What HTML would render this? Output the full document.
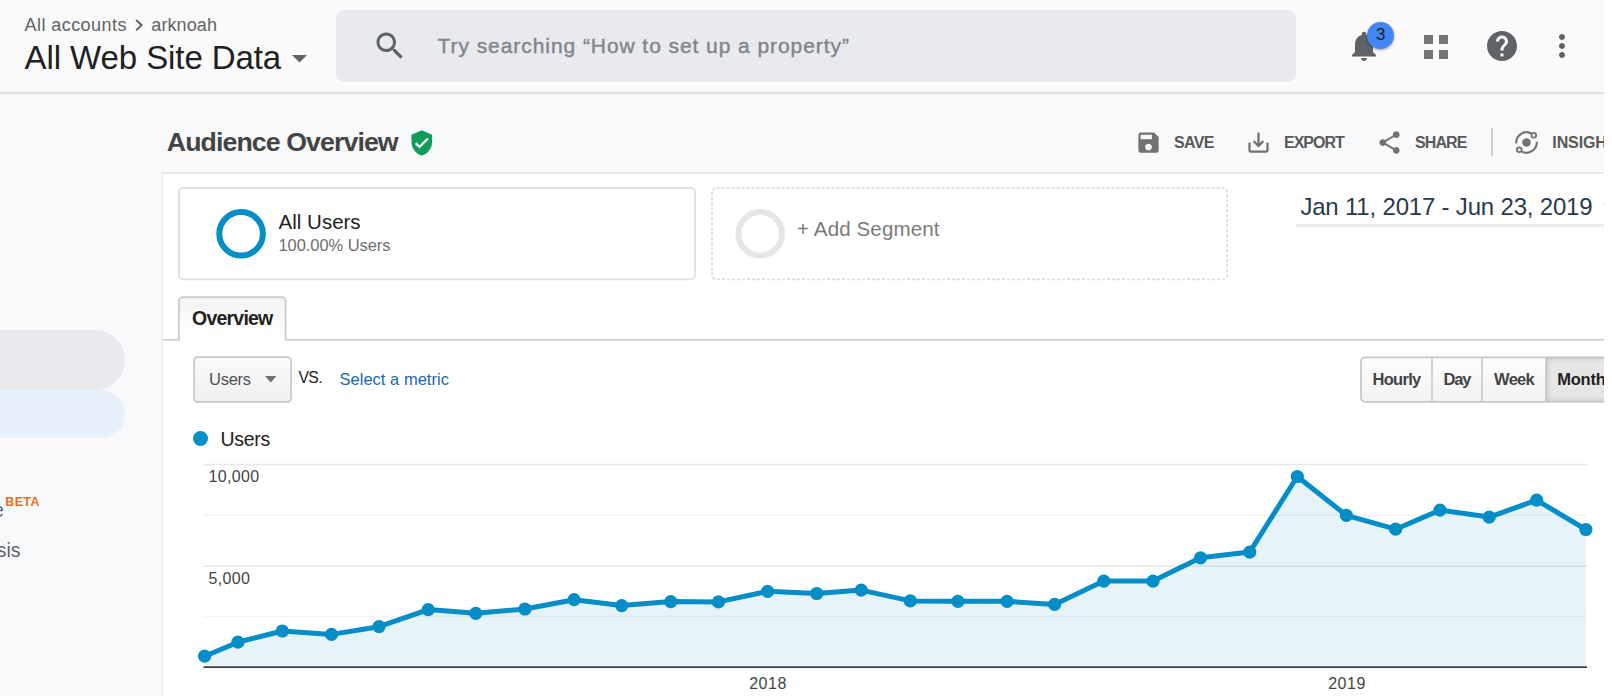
<!DOCTYPE html>
<html><head><meta charset="utf-8"><title>Analytics</title>
<style>
html,body{margin:0;padding:0;background:#fff;}
body{width:1612px;height:696px;overflow:hidden;position:relative;font-family:"Liberation Sans", sans-serif;}
#w{position:absolute;left:0;top:0;width:1604px;height:696px;overflow:hidden;}
.t{position:absolute;white-space:nowrap;font-family:"Liberation Sans", sans-serif;}
.b{position:absolute;}
.i{position:absolute;overflow:visible;}
</style></head><body><div id="w">
<div class="b" style="left:0;top:0;width:1604px;height:696px;background:#f8f9fa"></div>
<div class="b" style="left:0;top:0;width:1604px;height:92px;background:#fafafa"></div>
<div class="b" style="left:0;top:92px;width:1604px;height:2px;background:linear-gradient(#d9dbe1,#e4e6ea)"></div>
<div class="b" style="left:162px;top:172px;width:1442px;height:524px;background:#fff;border-left:1px solid #e9e9e9;border-top:2px solid #e8e8e8;box-sizing:border-box"></div>
<div class="t" style="left:24.50px;top:15.76px;font-size:18px;line-height:18px;color:#5f6368;font-weight:400;letter-spacing:0.44px;">All accounts</div>
<svg class="i" style="left:0;top:0" width="300" height="60" viewBox="0 0 300 60"><polyline points="136.2,20 141.5,25.1 136.2,30.2" fill="none" stroke="#5f6368" stroke-width="2"/></svg>
<div class="t" style="left:151.30px;top:15.76px;font-size:18px;line-height:18px;color:#5f6368;font-weight:400;letter-spacing:0.1px;">arknoah</div>
<div class="t" style="left:24.50px;top:41.07px;font-size:33px;line-height:33px;color:#202124;font-weight:400;letter-spacing:-0.08px;">All Web Site Data</div>
<svg class="i" style="left:292px;top:55px" width="15" height="8" viewBox="0 0 15 8"><path fill="#5f6368" d="M0 0h15L7.5 7.5z"/></svg>
<div class="b" style="left:336px;top:10px;width:960px;height:72px;background:#e8eaed;border-radius:8px"></div>
<svg class="i" style="left:371.5px;top:28px" width="36" height="36" viewBox="0 0 24 24"><path fill="#5f6368" d="M15.5 14h-.79l-.28-.27C15.41 12.59 16 11.11 16 9.5 16 5.91 13.09 3 9.5 3S3 5.91 3 9.5 5.91 16 9.5 16c1.61 0 3.09-.59 4.23-1.57l.27.28v.79l5 4.99L20.49 19l-4.99-5zm-6 0C7.01 14 5 11.99 5 9.5S7.01 5 9.5 5 14 7.01 14 9.5 11.99 14 9.5 14z"/></svg>
<div class="t" style="left:437.60px;top:35.02px;font-size:21px;line-height:21px;color:#80868b;font-weight:400;letter-spacing:0.93px;-webkit-text-stroke:0.4px #80868b">Try searching “How to set up a property”</div>
<svg class="i" style="left:1346px;top:28px" width="36" height="36" viewBox="0 0 24 24"><path fill="#5f6368" d="M12 22c1.1 0 2-.9 2-2h-4c0 1.1.89 2 2 2zm6-6v-5c0-3.07-1.64-5.64-4.5-6.32V4c0-.83-.67-1.5-1.5-1.5s-1.5.67-1.5 1.5v.68C7.63 5.36 6 7.92 6 11v5l-2 2v1h16v-1l-2-2z"/></svg>
<div class="b" style="left:1367px;top:22px;width:27px;height:27px;border-radius:50%;background:#4285f4;box-shadow:0 1px 3px rgba(0,0,0,.35)"></div>
<div class="t" style="left:1376.00px;top:26.21px;font-size:17px;line-height:17px;color:#202124;font-weight:400;letter-spacing:0px;">3</div>
<div class="b" style="left:1424px;top:35px;width:9px;height:9px;background:#757575"></div>
<div class="b" style="left:1424px;top:50px;width:9px;height:9px;background:#757575"></div>
<div class="b" style="left:1439px;top:35px;width:9px;height:9px;background:#757575"></div>
<div class="b" style="left:1439px;top:50px;width:9px;height:9px;background:#757575"></div>
<svg class="i" style="left:1484px;top:28px" width="36" height="36" viewBox="0 0 24 24"><path fill="#5f6368" d="M12 2C6.48 2 2 6.48 2 12s4.48 10 10 10 10-4.48 10-10S17.52 2 12 2zm1 17h-2v-2h2v2zm2.07-7.75l-.9.92C13.45 12.9 13 13.5 13 15h-2v-.5c0-1.1.45-2.1 1.17-2.83l1.24-1.26c.37-.36.59-.86.59-1.41 0-1.1-.9-2-2-2s-2 .9-2 2H8c0-2.21 1.79-4 4-4s4 1.79 4 4c0 .88-.36 1.68-.93 2.25z"/></svg>
<svg class="i" style="left:1544px;top:28px" width="36" height="36" viewBox="0 0 24 24"><path fill="#5f6368" d="M12 8c1.1 0 2-.9 2-2s-.9-2-2-2-2 .9-2 2 .9 2 2 2zm0 2c-1.1 0-2 .9-2 2s.9 2 2 2 2-.9 2-2-.9-2-2-2zm0 6c-1.1 0-2 .9-2 2s.9 2 2 2 2-.9 2-2-.9-2-2-2z"/></svg>
<div class="b" style="left:-40px;top:330px;width:165px;height:59.7px;background:#e8eaed;border-radius:30px"></div>
<div class="b" style="left:-40px;top:389.7px;width:165px;height:48.4px;background:#e8f0fe;border-radius:25px"></div>
<div class="t" style="left:-96.20px;top:500.99px;font-size:19.5px;line-height:19.5px;color:#5f6368;font-weight:400;letter-spacing:0px;width:100px;text-align:right">Value</div>
<div class="t" style="left:5.30px;top:496.02px;font-size:12.5px;line-height:12.5px;color:#e37222;font-weight:700;letter-spacing:0.35px;">BETA</div>
<div class="t" style="left:-79.40px;top:540.89px;font-size:19.5px;line-height:19.5px;color:#5f6368;font-weight:400;letter-spacing:0px;width:100px;text-align:right">Analysis</div>
<div class="t" style="left:166.80px;top:129.10px;font-size:26.7px;line-height:26.7px;color:#444;font-weight:700;letter-spacing:-0.9px;">Audience Overview</div>
<svg class="i" style="left:407.7px;top:128.7px" width="27.6" height="27.6" viewBox="0 0 24 24"><path fill="#0f9d58" d="M12 1L3 5v6c0 5.55 3.84 10.74 9 12 5.16-1.26 9-6.45 9-12V5l-9-4zm-2 16l-4-4 1.41-1.41L10 14.17l6.59-6.59L18 9l-8 8z"/></svg>
<svg class="i" style="left:1135px;top:128.8px" width="27" height="27" viewBox="0 0 24 24"><path fill="#727272" d="M17 3H5c-1.11 0-2 .9-2 2v14c0 1.1.89 2 2 2h14c1.1 0 2-.9 2-2V7l-4-4zm-5 16c-1.66 0-3-1.34-3-3s1.34-3 3-3 3 1.34 3 3-1.34 3-3 3zm3-10H5V5h10v4z"/></svg>
<div class="t" style="left:1174.00px;top:135.46px;font-size:16px;line-height:16px;color:#595959;font-weight:700;letter-spacing:-0.63px;">SAVE</div>
<svg class="i" style="left:1245px;top:128.8px" width="27" height="27" viewBox="0 0 24 24"><path fill="#727272" d="M19 12v7H5v-7H3v7c0 1.1.9 2 2 2h14c1.1 0 2-.9 2-2v-7h-2zm-6 .67l2.59-2.58L17 11.5l-5 5-5-5 1.41-1.41L11 12.67V3h2z"/></svg>
<div class="t" style="left:1284.00px;top:135.46px;font-size:16px;line-height:16px;color:#595959;font-weight:700;letter-spacing:-1.02px;">EXPORT</div>
<svg class="i" style="left:1376px;top:128.8px" width="27" height="27" viewBox="0 0 24 24"><path fill="#727272" d="M18 16.08c-.76 0-1.44.3-1.96.77L8.91 12.7c.05-.23.09-.46.09-.7s-.04-.47-.09-.7l7.05-4.11c.54.5 1.25.81 2.04.81 1.66 0 3-1.34 3-3s-1.34-3-3-3-3 1.34-3 3c0 .24.04.47.09.7L8.04 9.81C7.5 9.31 6.79 9 6 9c-1.66 0-3 1.34-3 3s1.34 3 3 3c.79 0 1.5-.31 2.04-.81l7.12 4.16c-.05.21-.08.43-.08.65 0 1.61 1.31 2.92 2.92 2.92 1.61 0 2.92-1.31 2.92-2.92s-1.31-2.92-2.92-2.92z"/></svg>
<div class="t" style="left:1415.00px;top:135.46px;font-size:16px;line-height:16px;color:#595959;font-weight:700;letter-spacing:-0.9px;">SHARE</div>
<div class="b" style="left:1491.2px;top:128px;width:1.8px;height:27.5px;background:#cdcdcd"></div>
<svg class="i" style="left:0;top:0" width="1604" height="300" viewBox="0 0 1604 300"><g fill="none" stroke="#727272" stroke-width="2.1"><path d="M1516.29 143.39A10.25 10.25 0 0 1 1531.15 133.37"/><path d="M1536.71 141.61A10.25 10.25 0 0 1 1521.85 151.63"/><circle cx="1533.75" cy="135.25" r="2.4" stroke-width="1.8"/><circle cx="1519.25" cy="149.75" r="2.4" stroke-width="1.8"/></g><circle cx="1526.5" cy="142.5" r="4.3" fill="#727272"/></svg>
<div class="t" style="left:1552.30px;top:135.46px;font-size:16px;line-height:16px;color:#595959;font-weight:700;letter-spacing:-0.1px;">INSIGHTS</div>
<svg class="i" style="left:0;top:0" width="1604" height="300" viewBox="0 0 1604 300"><rect x="178.9" y="187.9" width="516.2" height="91.4" rx="4.5" fill="#fff" stroke="#dedede" stroke-width="1.8"/><circle cx="241.1" cy="233.7" r="21.8" fill="none" stroke="#058dc7" stroke-width="6"/><rect x="712" y="187.9" width="515.2" height="91.4" rx="4.5" fill="#fff" stroke="#dcdcdc" stroke-width="1.8" stroke-dasharray="3 2"/><circle cx="760.2" cy="233.7" r="21.8" fill="none" stroke="#e6e6e6" stroke-width="6"/></svg>
<div class="t" style="left:278.60px;top:211.85px;font-size:20.5px;line-height:20.5px;color:#222;font-weight:400;letter-spacing:0.0px;">All Users</div>
<div class="t" style="left:278.50px;top:237.23px;font-size:16.5px;line-height:16.5px;color:#6e6e6e;font-weight:400;letter-spacing:-0.07px;">100.00% Users</div>
<div class="t" style="left:797.00px;top:219.25px;font-size:20.5px;line-height:20.5px;color:#7a7a7a;font-weight:400;letter-spacing:0.14px;">+ Add Segment</div>
<div class="t" style="left:1300.40px;top:194.68px;font-size:24px;line-height:24px;color:#2b3a4a;font-weight:400;letter-spacing:-0.19px;">Jan 11, 2017 - Jun 23, 2019</div>
<div class="b" style="left:1296px;top:224px;width:308px;height:2.5px;background:#ececec"></div>
<svg class="i" style="left:1602.5px;top:202.5px" width="10" height="6" viewBox="0 0 10 6"><path fill="#777" d="M0 0h10L5 5.5z"/></svg>
<svg class="i" style="left:0;top:0" width="1604" height="420" viewBox="0 0 1604 420"><defs><linearGradient id="gt" x1="0" y1="0" x2="0" y2="1"><stop offset="0" stop-color="#f3f3f3"/><stop offset="0.75" stop-color="#fdfdfd"/><stop offset="1" stop-color="#fff"/></linearGradient><linearGradient id="gb" x1="0" y1="0" x2="0" y2="1"><stop offset="0" stop-color="#fafafa"/><stop offset="1" stop-color="#f0f0f0"/></linearGradient><linearGradient id="gc" x1="0" y1="0" x2="0" y2="1"><stop offset="0" stop-color="#fdfdfd"/><stop offset="1" stop-color="#f2f2f2"/></linearGradient></defs><path d="M178.85 341V301.1a4 4 0 0 1 4-4H281.6a4 4 0 0 1 4 4V341z" fill="url(#gt)"/><path d="M162.5 339.75H178.85V301.1a4 4 0 0 1 4-4H281.6a4 4 0 0 1 4 4V339.75H1604" fill="none" stroke="#c9c9c9" stroke-width="1.7"/><rect x="194.1" y="357.2" width="97" height="44.6" rx="3.5" fill="url(#gb)" stroke="#c8c8c8" stroke-width="1.7"/><rect x="1361.05" y="357.3" width="270" height="44.5" rx="4" fill="url(#gc)" stroke="#c8c8c8" stroke-width="1.8"/><rect x="1547" y="358.2" width="80" height="42.7" fill="#e4e4e4"/><rect x="1431.1" y="358" width="1.8" height="43" fill="#cecece"/><rect x="1481.1" y="358" width="1.8" height="43" fill="#cecece"/><rect x="1545.2" y="358" width="1.9" height="43" fill="#c8c8c8"/></svg>
<div class="t" style="left:192.00px;top:309.29px;font-size:19.5px;line-height:19.5px;color:#222;font-weight:700;letter-spacing:-0.78px;">Overview</div>
<div class="t" style="left:209.00px;top:370.53px;font-size:16.5px;line-height:16.5px;color:#505050;font-weight:400;letter-spacing:-0.25px;">Users</div>
<svg class="i" style="left:265.3px;top:376px" width="11.4" height="7" viewBox="0 0 11.4 7"><path fill="#707070" d="M0 0h11.4L5.7 6.6z"/></svg>
<div class="t" style="left:298.50px;top:370.03px;font-size:15.8px;line-height:15.8px;color:#222;font-weight:400;letter-spacing:-0.7px;">VS.</div>
<div class="t" style="left:339.50px;top:370.53px;font-size:16.5px;line-height:16.5px;color:#1a68ad;font-weight:400;letter-spacing:0.02px;">Select a metric</div>
<div class="b" style="left:1547px;top:358.2px;width:70px;height:42.7px;background:#e6e6e6;box-shadow:inset 0 0 5px rgba(0,0,0,.2)"></div>
<div class="t" style="left:1372.50px;top:370.73px;font-size:16.5px;line-height:16.5px;color:#444;font-weight:700;letter-spacing:-0.7px;">Hourly</div>
<div class="t" style="left:1443.60px;top:370.73px;font-size:16.5px;line-height:16.5px;color:#444;font-weight:700;letter-spacing:-1.24px;">Day</div>
<div class="t" style="left:1494.10px;top:370.73px;font-size:16.5px;line-height:16.5px;color:#444;font-weight:700;letter-spacing:-0.72px;">Week</div>
<div class="t" style="left:1557.30px;top:370.73px;font-size:16.5px;line-height:16.5px;color:#222;font-weight:700;letter-spacing:-0.25px;">Month</div>
<div class="b" style="left:192.8px;top:430.5px;width:15.6px;height:15.6px;border-radius:50%;background:#058dc7"></div>
<div class="t" style="left:220.60px;top:430.29px;font-size:19.5px;line-height:19.5px;color:#222;font-weight:400;letter-spacing:-0.33px;">Users</div>
<svg class="i" style="left:0;top:0" width="1604" height="696" viewBox="0 0 1604 696"><rect x="203.5" y="463.75" width="1383.5" height="1.5" fill="#e8e8e8"/><rect x="203.5" y="514.55" width="1383.5" height="1.5" fill="#f3f3f3"/><rect x="203.5" y="565.45" width="1383.5" height="1.5" fill="#e8e8e8"/><rect x="203.5" y="615.55" width="1383.5" height="1.5" fill="#f3f3f3"/><polygon points="204.6,667.1 204.6,656.2 237.9,642.2 282.3,631.0 331.5,634.4 379.0,626.7 428.2,609.6 475.8,613.3 524.9,609.0 574.1,599.7 621.7,605.6 670.8,601.6 718.4,601.9 767.6,591.3 816.7,593.5 861.2,590.1 910.3,600.9 957.9,601.3 1007.1,601.3 1054.6,604.4 1103.8,581.1 1153.0,581.1 1200.5,557.8 1249.7,552.1 1297.3,476.5 1346.4,515.4 1395.6,529.2 1440.0,510.1 1489.2,517.1 1536.7,500.2 1585.9,529.5 1585.9,667.1" fill="#058dc7" fill-opacity="0.1"/><rect x="203.5" y="666.35" width="1383.5" height="1.6" fill="#333"/><polyline points="204.6,656.2 237.9,642.2 282.3,631.0 331.5,634.4 379.0,626.7 428.2,609.6 475.8,613.3 524.9,609.0 574.1,599.7 621.7,605.6 670.8,601.6 718.4,601.9 767.6,591.3 816.7,593.5 861.2,590.1 910.3,600.9 957.9,601.3 1007.1,601.3 1054.6,604.4 1103.8,581.1 1153.0,581.1 1200.5,557.8 1249.7,552.1 1297.3,476.5 1346.4,515.4 1395.6,529.2 1440.0,510.1 1489.2,517.1 1536.7,500.2 1585.9,529.5" fill="none" stroke="#058dc7" stroke-width="5" stroke-linejoin="round"/><circle cx="204.6" cy="656.2" r="6.6" fill="#058dc7"/><circle cx="237.9" cy="642.2" r="6.6" fill="#058dc7"/><circle cx="282.3" cy="631.0" r="6.6" fill="#058dc7"/><circle cx="331.5" cy="634.4" r="6.6" fill="#058dc7"/><circle cx="379.0" cy="626.7" r="6.6" fill="#058dc7"/><circle cx="428.2" cy="609.6" r="6.6" fill="#058dc7"/><circle cx="475.8" cy="613.3" r="6.6" fill="#058dc7"/><circle cx="524.9" cy="609.0" r="6.6" fill="#058dc7"/><circle cx="574.1" cy="599.7" r="6.6" fill="#058dc7"/><circle cx="621.7" cy="605.6" r="6.6" fill="#058dc7"/><circle cx="670.8" cy="601.6" r="6.6" fill="#058dc7"/><circle cx="718.4" cy="601.9" r="6.6" fill="#058dc7"/><circle cx="767.6" cy="591.3" r="6.6" fill="#058dc7"/><circle cx="816.7" cy="593.5" r="6.6" fill="#058dc7"/><circle cx="861.2" cy="590.1" r="6.6" fill="#058dc7"/><circle cx="910.3" cy="600.9" r="6.6" fill="#058dc7"/><circle cx="957.9" cy="601.3" r="6.6" fill="#058dc7"/><circle cx="1007.1" cy="601.3" r="6.6" fill="#058dc7"/><circle cx="1054.6" cy="604.4" r="6.6" fill="#058dc7"/><circle cx="1103.8" cy="581.1" r="6.6" fill="#058dc7"/><circle cx="1153.0" cy="581.1" r="6.6" fill="#058dc7"/><circle cx="1200.5" cy="557.8" r="6.6" fill="#058dc7"/><circle cx="1249.7" cy="552.1" r="6.6" fill="#058dc7"/><circle cx="1297.3" cy="476.5" r="6.6" fill="#058dc7"/><circle cx="1346.4" cy="515.4" r="6.6" fill="#058dc7"/><circle cx="1395.6" cy="529.2" r="6.6" fill="#058dc7"/><circle cx="1440.0" cy="510.1" r="6.6" fill="#058dc7"/><circle cx="1489.2" cy="517.1" r="6.6" fill="#058dc7"/><circle cx="1536.7" cy="500.2" r="6.6" fill="#058dc7"/><circle cx="1585.9" cy="529.5" r="6.6" fill="#058dc7"/></svg>
<div class="t" style="left:208.60px;top:469.46px;font-size:16px;line-height:16px;color:#444;font-weight:400;letter-spacing:0.3px;">10,000</div>
<div class="t" style="left:208.60px;top:571.46px;font-size:16px;line-height:16px;color:#444;font-weight:400;letter-spacing:0.3px;">5,000</div>
<div class="t" style="left:749.20px;top:676.26px;font-size:16px;line-height:16px;color:#444;font-weight:400;letter-spacing:0.5px;">2018</div>
<div class="t" style="left:1328.20px;top:676.26px;font-size:16px;line-height:16px;color:#444;font-weight:400;letter-spacing:0.5px;">2019</div>
</div></body></html>
